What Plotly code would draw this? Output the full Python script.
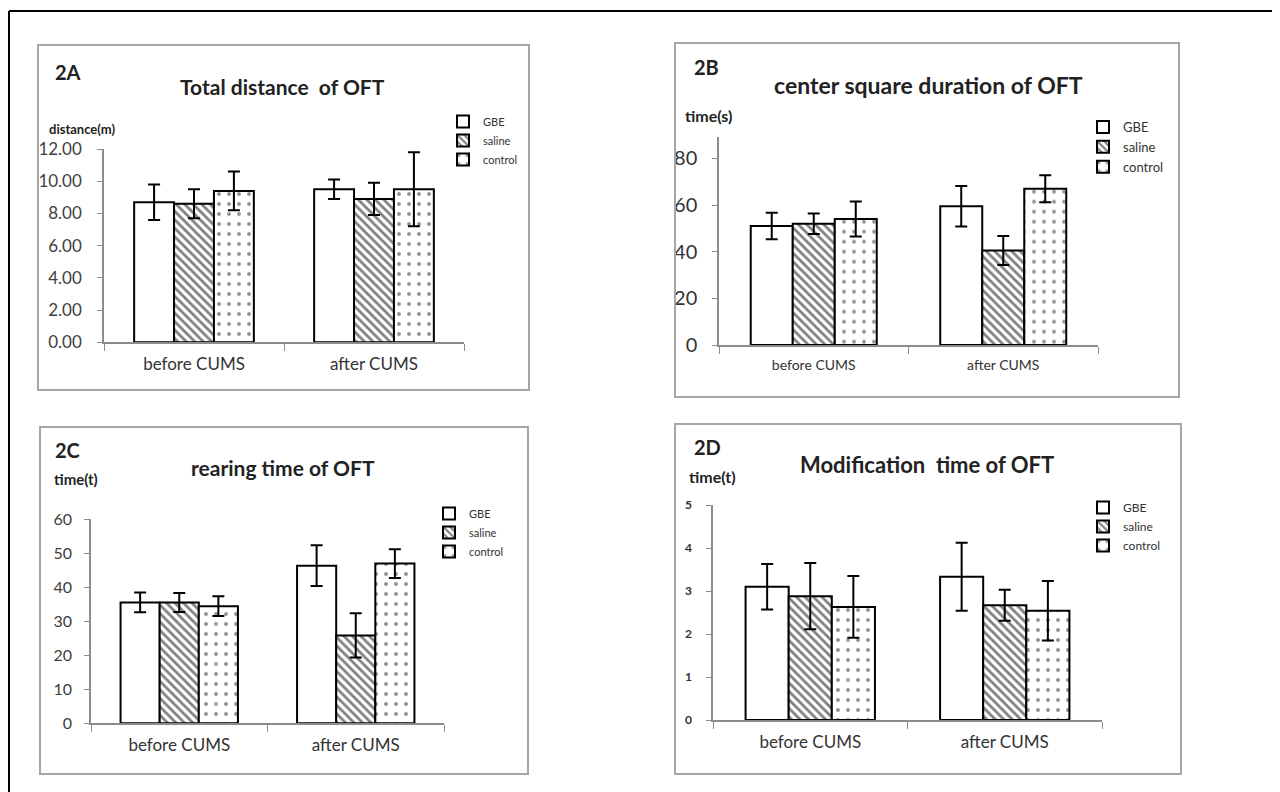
import plotly.graph_objects as go

W, H = 1280, 792
OFF = 8  # page body margin in the browser

# ---------------- data ----------------
categories = ["before CUMS", "after CUMS"]
groups = ["GBE", "saline", "control"]

# 2A Total distance of OFT (m)
a_gbe = [8.7, 9.5]
a_saline = [8.6, 8.9]
a_control = [9.4, 9.5]
a_gbe_err = [1.1, 0.6]
a_saline_err = [0.9, 1.0]
a_control_err = [1.2, 2.3]
a_ticks = [0, 2, 4, 6, 8, 10, 12]

# 2B center square duration of OFT (s)
b_gbe = [51, 59.5]
b_saline = [52, 40.5]
b_control = [54, 67]
b_gbe_err = [5.7, 8.7]
b_saline_err = [4.4, 6.2]
b_control_err = [7.5, 5.8]
b_ticks = [0, 20, 40, 60, 80]

# 2C rearing time of OFT
c_gbe = [35.5, 46.3]
c_saline = [35.5, 25.8]
c_control = [34.4, 46.9]
c_gbe_err = [2.9, 6.0]
c_saline_err = [2.8, 6.5]
c_control_err = [2.9, 4.2]
c_ticks = [0, 10, 20, 30, 40, 50, 60]

# 2D Modification time of OFT
d_gbe = [3.1, 3.33]
d_saline = [2.88, 2.67]
d_control = [2.63, 2.54]
d_gbe_err = [0.53, 0.79]
d_saline_err = [0.77, 0.36]
d_control_err = [0.72, 0.69]
d_ticks = [0, 1, 2, 3, 4, 5]


def px(x):
    return (x - OFF) / W


def py(y):
    return 1 - (y - OFF) / H


patterns = {
    "GBE": dict(shape="", fgcolor="black", bgcolor="white"),
    "saline": dict(shape="\\", fgcolor="black", bgcolor="white", size=6, solidity=0.45),
    "control": dict(shape=".", fgcolor="#2a2a2a", bgcolor="white", size=10, solidity=0.12),
}

panels = [
    dict(sfx="", leg="legend", means=[a_gbe, a_saline, a_control],
         errs=[a_gbe_err, a_saline_err, a_control_err],
         xd=(104, 464), yd=(149, 342.3), rng=[0, 12], ticks=a_ticks, fmt=".2f",
         tickfont=dict(size=17, color="#404040"), catfont=dict(size=17, color="#333"),
         standoff=12),
    dict(sfx="2", leg="legend2", means=[b_gbe, b_saline, b_control],
         errs=[b_gbe_err, b_saline_err, b_control_err],
         xd=(719, 1098), yd=(136.7, 345), rng=[0, 89.3], ticks=b_ticks, fmt="d",
         tickfont=dict(size=20, color="#333"), catfont=dict(size=14, color="#333"),
         standoff=11),
    dict(sfx="3", leg="legend3", means=[c_gbe, c_saline, c_control],
         errs=[c_gbe_err, c_saline_err, c_control_err],
         xd=(91, 444), yd=(519, 723.3), rng=[0, 60], ticks=c_ticks, fmt="d",
         tickfont=dict(size=16, color="#404040"), catfont=dict(size=17, color="#333"),
         standoff=9),
    dict(sfx="4", leg="legend4", means=[d_gbe, d_saline, d_control],
         errs=[d_gbe_err, d_saline_err, d_control_err],
         xd=(713, 1102), yd=(505, 720), rng=[0, 5], ticks=d_ticks, fmt="d",
         tickfont=dict(size=12, color="#333", weight="bold"), catfont=dict(size=17, color="#333"),
         standoff=12),
]

fig = go.Figure()
layout = {}
for p in panels:
    for g, vals, err in zip(groups, p["means"], p["errs"]):
        fig.add_trace(go.Bar(
            x=categories, y=vals, name=g,
            xaxis="x" + p["sfx"], yaxis="y" + p["sfx"], legend=p["leg"],
            marker=dict(color="white", line=dict(color="black", width=2),
                        pattern=patterns[g]),
            error_y=dict(type="data", array=err, color="black", thickness=2, width=6),
        ))
    layout["xaxis" + p["sfx"]] = dict(
        domain=[px(p["xd"][0]), px(p["xd"][1])], automargin=False,
        anchor="y" + p["sfx"], showline=True, linecolor="#8c8c8c", linewidth=1.5,
        ticks="outside", tickson="boundaries", ticklen=7, tickcolor="#8c8c8c",
        tickfont=p["catfont"], showgrid=False, zeroline=False, ticklabelstandoff=6,
    )
    layout["yaxis" + p["sfx"]] = dict(
        domain=[py(p["yd"][1]), py(p["yd"][0])], automargin=False,
        anchor="x" + p["sfx"], range=p["rng"], tickvals=p["ticks"], tickformat=p["fmt"],
        showline=True, linecolor="#8c8c8c", linewidth=1.5, ticks="outside",
        ticklen=5, tickcolor="#8c8c8c", tickfont=p["tickfont"], showgrid=False,
        zeroline=False, ticklabelstandoff=p["standoff"],
    )

legend_pos = {
    "legend": (443, 107, 11),
    "legend2": (1083, 112, 13),
    "legend3": (429, 499, 11),
    "legend4": (1083, 493, 12),
}
for name, (lx, ly, fs) in legend_pos.items():
    layout[name] = dict(x=px(lx), y=py(ly), xanchor="left", yanchor="top",
                        bgcolor="rgba(0,0,0,0)", font=dict(size=fs, color="#333"),
                        tracegroupgap=0, itemclick=False)

boxes = [(38, 45, 529, 390), (675, 43, 1179, 397), (40, 427, 528, 774), (675, 424, 1181, 774)]
shapes = []
for x0, y0, x1, y1 in boxes:
    shapes.append(dict(type="rect", xref="paper", yref="paper",
                       x0=px(x0), x1=px(x1), y0=py(y1), y1=py(y0),
                       line=dict(color="#a6a6a6", width=2), fillcolor="rgba(0,0,0,0)"))
shapes.append(dict(type="line", xref="paper", yref="paper", x0=px(9), x1=px(1290),
                   y0=py(11), y1=py(11), line=dict(color="black", width=2)))
shapes.append(dict(type="line", xref="paper", yref="paper", x0=px(9), x1=px(9),
                   y0=py(11), y1=py(800), line=dict(color="black", width=2)))

texts = [
    # panel labels
    ("2A", 53, 72, 20, "left"),
    ("2B", 692, 67, 20, "left"),
    ("2C", 53, 450, 20, "left"),
    ("2D", 692, 447, 20, "left"),
    # titles
    ("Total distance\u00a0 of OFT", 282, 86, 21, "center"),
    ("center square duration of OFT", 928, 85, 23, "center"),
    ("rearing time of OFT", 283, 467, 21, "center"),
    ("Modification\u00a0 time of OFT", 927, 464, 22, "center"),
    # axis titles
    ("distance(m)", 47, 129, 13, "left"),
    ("time(s)", 683, 115, 16, "left"),
    ("time(t)", 52, 479, 15, "left"),
    ("time(t)", 687, 476, 16, "left"),
]
annotations = []
for t, x, y, fs, xa in texts:
    annotations.append(dict(text=t, x=px(x), y=py(y), xref="paper", yref="paper",
                            xanchor=xa, yanchor="middle", showarrow=False,
                            font=dict(size=fs, color="#222", weight="bold")))

fig.update_layout(
    width=W, height=H, margin=dict(l=0, r=0, t=0, b=0, autoexpand=False),
    paper_bgcolor="white", plot_bgcolor="white",
    font=dict(family="Lato", color="#333"),
    barmode="group", bargap=0.335, bargroupgap=0,
    shapes=shapes, annotations=annotations,
    **layout,
)

fig.write_html("out.html")
